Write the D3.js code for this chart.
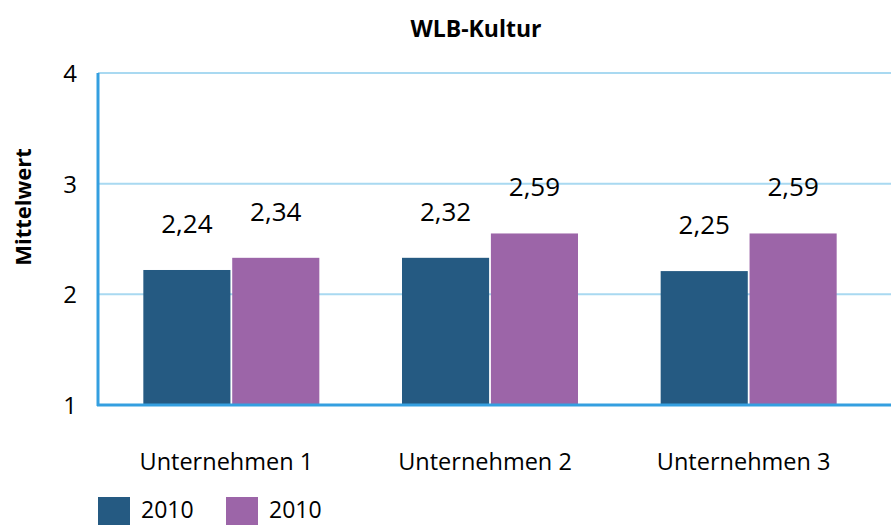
<!DOCTYPE html>
<html>
<head>
<meta charset="utf-8">
<script src="https://cdn.jsdelivr.net/npm/d3@7"></script>
<style>
  body { margin: 0; background: #fff; }
  text { font-family: "Open Sans", "Noto Sans", sans-serif; fill: #000; }
</style>
</head>
<body>
<div id="chart"></div>
<script>
const categories = ["Unternehmen 1", "Unternehmen 2", "Unternehmen 3"];
const seriesNames = ["2010", "2010"];
// bar heights as drawn in the picture
const barValues = [
  [2.22, 2.33],
  [2.33, 2.55],
  [2.21, 2.55]
];
// printed value labels
const valueLabels = [
  ["2,24", "2,34"],
  ["2,32", "2,59"],
  ["2,25", "2,59"]
];
const yTicks = [1, 2, 3, 4];
const colors = ["#255a82", "#9c65a8"];

const width = 893, height = 525;

const svg = d3.select("#chart")
  .append("svg")
  .attr("width", width)
  .attr("height", height);

const y = d3.scaleLinear().domain([1, 4]).range([405, 73]);
const x = d3.scaleBand().domain(categories).range([102, 878]);
const xs = d3.scaleBand().domain([0, 1]).range([-88, 88]).paddingInner(0.02);

// gridlines
svg.append("g")
  .selectAll("line")
  .data(yTicks.filter(d => d > 1))
  .enter()
  .append("line")
  .attr("x1", 98).attr("x2", 891)
  .attr("y1", d => y(d)).attr("y2", d => y(d))
  .attr("stroke", "#a9d9f1")
  .attr("stroke-width", 2);

// y tick labels
svg.append("g")
  .selectAll("text")
  .data(yTicks)
  .enter()
  .append("text")
  .attr("x", 77)
  .attr("y", d => y(d) + 9)
  .attr("text-anchor", "end")
  .style("font-size", "24px")
  .text(d => d);

// bars
const groups = svg.selectAll(".grp")
  .data(categories)
  .enter()
  .append("g")
  .attr("transform", d => `translate(${x(d) + x.bandwidth() / 2},0)`);

const barData = (d, i) => barValues[i].map((v, j) => ({ v, j, label: valueLabels[i][j] }));

groups.selectAll("rect")
  .data(barData)
  .enter()
  .append("rect")
  .attr("x", d => xs(d.j))
  .attr("width", xs.bandwidth())
  .attr("y", d => y(d.v))
  .attr("height", d => y(1) - y(d.v))
  .attr("fill", d => colors[d.j]);

groups.selectAll(".lbl")
  .data(barData)
  .enter()
  .append("text")
  .attr("x", d => xs(d.j) + xs.bandwidth() / 2)
  .attr("y", d => y(d.v) - 37)
  .attr("text-anchor", "middle")
  .style("font-size", "26px")
  .text(d => d.label);

// axes lines
svg.append("line")
  .attr("x1", 98).attr("x2", 98)
  .attr("y1", 73).attr("y2", 406)
  .attr("stroke", "#349fe0").attr("stroke-width", 3);
svg.append("line")
  .attr("x1", 97).attr("x2", 891)
  .attr("y1", 405).attr("y2", 405)
  .attr("stroke", "#349fe0").attr("stroke-width", 3);

// category labels
svg.append("g")
  .selectAll("text")
  .data(categories)
  .enter()
  .append("text")
  .attr("x", d => x(d) + x.bandwidth() / 2 - 5)
  .attr("y", 470)
  .attr("text-anchor", "middle")
  .style("font-size", "23.5px")
  .text(d => d);

// title
svg.append("text")
  .attr("x", 476)
  .attr("y", 37)
  .attr("text-anchor", "middle")
  .style("font-size", "23px")
  .style("font-weight", "bold")
  .text("WLB-Kultur");

// y axis title
svg.append("text")
  .attr("transform", "translate(31,207) rotate(-90)")
  .attr("text-anchor", "middle")
  .style("font-size", "22px")
  .style("font-weight", "bold")
  .text("Mittelwert");

// legend
const legend = svg.append("g")
  .selectAll("g")
  .data(seriesNames)
  .enter()
  .append("g")
  .attr("transform", (d, i) => `translate(${98 + i * 128},497)`);
legend.append("rect")
  .attr("width", 32).attr("height", 32)
  .attr("fill", (d, i) => colors[i]);
legend.append("text")
  .attr("x", 43).attr("y", 21)
  .style("font-size", "23px")
  .text(d => d);
</script>
</body>
</html>
